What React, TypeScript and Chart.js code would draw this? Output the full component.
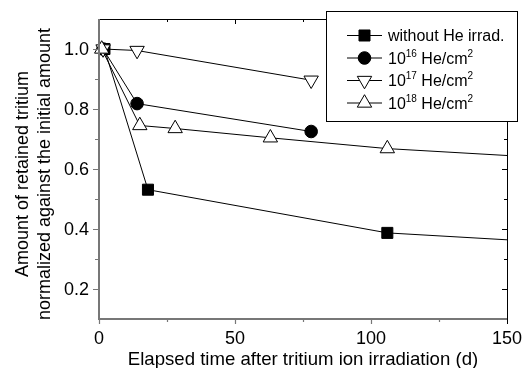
import React, { useEffect, useRef } from "react";
import { Chart, registerables } from "chart.js";
import { drawPoint } from "chart.js/helpers";

Chart.register(...registerables);

// ---- data ----
const SERIES_LABELS = [
  "without He irrad.",
  "10^{16} He/cm^{2}",
  "10^{17} He/cm^{2}",
  "10^{18} He/cm^{2}",
];
const X_NOHE = [2, 18, 106, 150];
const Y_NOHE = [1.0, 0.531, 0.387, 0.364];
const X_1E16 = [1.5, 14, 78];
const Y_1E16 = [1.0, 0.818, 0.725];
const X_1E17 = [1.5, 14, 78];
const Y_1E17 = [1.0, 0.995, 0.896];
const X_1E18 = [1, 15, 28, 63, 106, 150];
const Y_1E18 = [1.0, 0.745, 0.735, 0.704, 0.668, 0.645];

const X_MIN = 0;
const X_MAX = 150;
const Y_MIN = 0.1;
const Y_MAX = 1.1;
const X_TICKS = [0, 50, 100, 150];
const X_MINOR = [25, 75, 125];
const Y_TICKS = [0.2, 0.4, 0.6, 0.8, 1.0];
const Y_MINOR = [0.3, 0.5, 0.7, 0.9];
const X_TITLE = "Elapsed time after tritium ion irradiation (d)";
const Y_TITLE = ["Amount of retained tritium", "normalized against the initial amount"];

const FONT = '"Liberation Sans", Arial, Helvetica, sans-serif';

const STYLES = [
  { pointStyle: "rect", radius: 7.8, fill: "#000", rotation: 0 },
  { pointStyle: "circle", radius: 6.3, fill: "#000", rotation: 0 },
  { pointStyle: "triangle", radius: 8.3, fill: "#fff", rotation: 180 },
  { pointStyle: "triangle", radius: 8.3, fill: "#fff", rotation: 0 },
];

function toPts(xs: number[], ys: number[]) {
  return xs.map((x, i) => ({ x, y: ys[i] }));
}

function drawRich(ctx: CanvasRenderingContext2D, text: string, x: number, y: number, size: number) {
  const parts = text.split(/(\^\{[^}]*\})/).filter((p) => p.length);
  let cx = x;
  for (const p of parts) {
    if (p.startsWith("^{")) {
      const t = p.slice(2, -1);
      ctx.font = `${Math.round(size * 0.62)}px ${FONT}`;
      ctx.fillText(t, cx, y - size * 0.42);
      cx += ctx.measureText(t).width;
    } else {
      ctx.font = `${size}px ${FONT}`;
      ctx.fillText(p, cx, y);
      cx += ctx.measureText(p).width;
    }
  }
}

const framePlugin = {
  id: "frame",
  afterDraw(chart: any) {
    const { ctx, chartArea: a, scales } = chart;
    const xs = scales.x;
    const ys = scales.y;
    ctx.save();

    // top and right axes (black, ticks inward)
    ctx.strokeStyle = "#000";
    ctx.lineWidth = 1;
    ctx.beginPath();
    ctx.moveTo(a.left, a.top + 0.5);
    ctx.lineTo(a.right + 1, a.top + 0.5);
    ctx.moveTo(a.right + 0.5, a.top);
    ctx.lineTo(a.right + 0.5, a.bottom);
    for (const v of X_TICKS) {
      const px = Math.round(xs.getPixelForValue(v)) + 0.5;
      ctx.moveTo(px, a.top);
      ctx.lineTo(px, a.top + 5);
    }
    for (const v of X_MINOR) {
      const px = Math.round(xs.getPixelForValue(v)) + 0.5;
      ctx.moveTo(px, a.top);
      ctx.lineTo(px, a.top + 3);
    }
    for (const v of Y_TICKS) {
      const py = Math.round(ys.getPixelForValue(v)) + 0.5;
      ctx.moveTo(a.right, py);
      ctx.lineTo(a.right - 5, py);
    }
    for (const v of Y_MINOR) {
      const py = Math.round(ys.getPixelForValue(v)) + 0.5;
      ctx.moveTo(a.right, py);
      ctx.lineTo(a.right - 3, py);
    }
    // tick at right-bottom corner going down
    ctx.moveTo(a.right + 0.5, a.bottom);
    ctx.lineTo(a.right + 0.5, a.bottom + 5);
    ctx.stroke();

    // left and bottom axes (gray, ticks outward)
    ctx.strokeStyle = "#777";
    ctx.lineWidth = 2;
    ctx.beginPath();
    ctx.moveTo(a.left, a.top);
    ctx.lineTo(a.left, a.bottom + 1);
    ctx.moveTo(a.left - 1, a.bottom);
    ctx.lineTo(a.right, a.bottom);
    ctx.stroke();
    ctx.lineWidth = 1.2;
    ctx.beginPath();
    for (const v of X_TICKS.slice(0, -1)) {
      const px = Math.round(xs.getPixelForValue(v)) + 0.5;
      ctx.moveTo(px, a.bottom);
      ctx.lineTo(px, a.bottom + 5);
    }
    for (const v of X_MINOR) {
      const px = Math.round(xs.getPixelForValue(v)) + 0.5;
      ctx.moveTo(px, a.bottom);
      ctx.lineTo(px, a.bottom + 3);
    }
    for (const v of Y_TICKS) {
      const py = Math.round(ys.getPixelForValue(v)) + 0.5;
      ctx.moveTo(a.left, py);
      ctx.lineTo(a.left - 6, py);
    }
    for (const v of Y_MINOR) {
      const py = Math.round(ys.getPixelForValue(v)) + 0.5;
      ctx.moveTo(a.left, py);
      ctx.lineTo(a.left - 4, py);
    }
    ctx.stroke();

    // tick labels
    ctx.fillStyle = "#000";
    ctx.font = `18px ${FONT}`;
    ctx.textBaseline = "alphabetic";
    ctx.textAlign = "center";
    for (const v of X_TICKS) {
      ctx.fillText(String(v), xs.getPixelForValue(v), a.bottom + 24.5);
    }
    ctx.textAlign = "right";
    ctx.textBaseline = "middle";
    for (const v of Y_TICKS) {
      ctx.fillText(v.toFixed(1), a.left - 10, ys.getPixelForValue(v) + 1);
    }

    // axis titles
    ctx.textAlign = "center";
    ctx.textBaseline = "alphabetic";
    ctx.font = `18.6px ${FONT}`;
    ctx.fillText(X_TITLE, (a.left + a.right) / 2, 364.5);
    ctx.save();
    ctx.font = `18px ${FONT}`;
    ctx.translate(28, 174);
    ctx.rotate(-Math.PI / 2);
    ctx.fillText(Y_TITLE[0], 0, 0);
    ctx.restore();
    ctx.save();
    ctx.font = `18px ${FONT}`;
    ctx.translate(50, 174);
    ctx.rotate(-Math.PI / 2);
    ctx.fillText(Y_TITLE[1], 0, 0);
    ctx.restore();

    // legend
    const lx = 326.5, ly = 11.5, lw = 191, lh = 110;
    ctx.fillStyle = "#fff";
    ctx.fillRect(lx, ly, lw, lh);
    ctx.strokeStyle = "#000";
    ctx.lineWidth = 1;
    ctx.strokeRect(lx, ly, lw, lh);
    const rows = [35, 57.5, 80, 102.5];
    SERIES_LABELS.forEach((label, i) => {
      const ry = rows[i];
      ctx.strokeStyle = "#000";
      ctx.lineWidth = 1;
      ctx.beginPath();
      ctx.moveTo(347, ry + 0.5);
      ctx.lineTo(382, ry + 0.5);
      ctx.stroke();
      const s = STYLES[i];
      ctx.fillStyle = s.fill;
      ctx.strokeStyle = "#000";
      ctx.lineWidth = 1;
      drawPoint(ctx, { pointStyle: s.pointStyle, radius: s.radius, rotation: s.rotation, borderWidth: 1 } as any, 364.5, ry + 0.5);
      ctx.fillStyle = "#000";
      ctx.textAlign = "left";
      ctx.textBaseline = "alphabetic";
      drawRich(ctx, label, 388, ry + 6, 16);
    });

    ctx.restore();
  },
};

export default function App() {
  const ref = useRef<HTMLCanvasElement | null>(null);
  useEffect(() => {
    if (!ref.current) return;
    const sets = [
      toPts(X_NOHE, Y_NOHE),
      toPts(X_1E16, Y_1E16),
      toPts(X_1E17, Y_1E17),
      toPts(X_1E18, Y_1E18),
    ];
    const orders = [3, 2, 1, 0];
    const chart = new Chart(ref.current, {
      type: "scatter",
      data: {
        datasets: sets.map((d, i) => ({
          label: SERIES_LABELS[i],
          data: d,
          showLine: true,
          borderColor: "#000",
          borderWidth: 1,
          pointStyle: STYLES[i].pointStyle as any,
          pointRotation: STYLES[i].rotation,
          pointRadius: d.map((p) => (p.x >= X_MAX ? 0 : STYLES[i].radius)),
          pointBackgroundColor: STYLES[i].fill,
          pointBorderColor: "#000",
          pointBorderWidth: 1,
          clip: false as any,
          order: orders[i],
        })),
      },
      options: {
        animation: false,
        responsive: true,
        maintainAspectRatio: false,
        layout: { padding: { left: 99, top: 19, right: 17, bottom: 49 } },
        plugins: { legend: { display: false }, tooltip: { enabled: false } },
        scales: {
          x: { type: "linear", min: X_MIN, max: X_MAX, display: false },
          y: { type: "linear", min: Y_MIN, max: Y_MAX, display: false },
        },
      },
      plugins: [framePlugin],
    });
    return () => chart.destroy();
  }, []);
  return (
    <div style={{ position: "absolute", left: 0, top: 0, width: 524, height: 368, background: "#fff" }}>
      <canvas ref={ref} />
    </div>
  );
}
